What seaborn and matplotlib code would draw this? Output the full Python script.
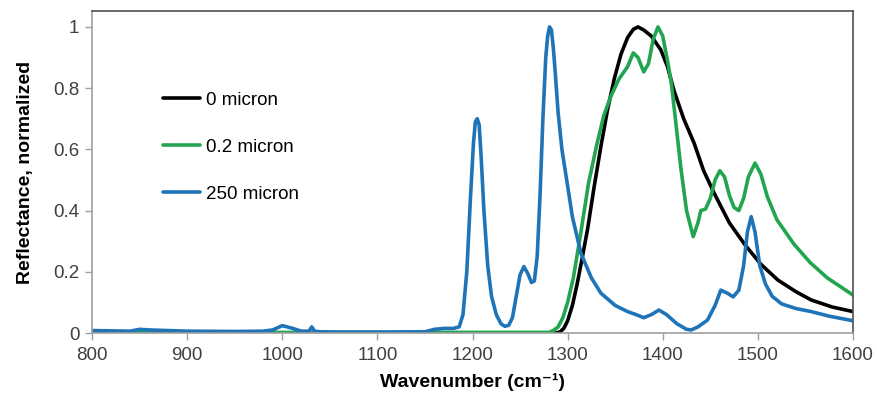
import matplotlib
matplotlib.use("Agg")
import matplotlib.pyplot as plt
import seaborn as sns
import pandas as pd

# ---- data ----
w_black = [800, 1288, 1292, 1296, 1300, 1305, 1310, 1315, 1321, 1328, 1335, 1342, 1349, 1356,
           1363, 1369, 1374, 1380, 1388, 1398, 1405, 1412, 1422, 1433, 1443, 1454, 1470, 1486,
           1503, 1521, 1540, 1556, 1578, 1600]
r_black = [0, 0, 0.004, 0.015, 0.04, 0.09, 0.16, 0.24, 0.34, 0.48, 0.61, 0.73, 0.83, 0.91,
           0.965, 0.992, 1.0, 0.99, 0.97, 0.925, 0.87, 0.79, 0.70, 0.62, 0.53, 0.457, 0.36, 0.29,
           0.225, 0.173, 0.135, 0.108, 0.085, 0.07]

w_green = [800, 1280, 1285, 1290, 1295, 1300, 1306, 1314, 1322, 1331, 1338, 1345, 1354, 1363,
           1369, 1374, 1380, 1385, 1390, 1395, 1400, 1405, 1409, 1414, 1419, 1425, 1432, 1437,
           1440, 1445, 1450, 1455, 1460, 1465, 1470, 1475, 1480, 1485, 1490, 1497, 1503, 1510,
           1520, 1538, 1555, 1573, 1600]
r_green = [0.002, 0.002, 0.008, 0.02, 0.05, 0.1, 0.18, 0.33, 0.49, 0.62, 0.71, 0.77, 0.83,
           0.87, 0.915, 0.90, 0.853, 0.88, 0.96, 1.0, 0.97, 0.89, 0.817, 0.68, 0.54, 0.40,
           0.315, 0.36, 0.40, 0.405, 0.44, 0.50, 0.53, 0.51, 0.45, 0.41, 0.40, 0.44, 0.51,
           0.555, 0.52, 0.445, 0.37, 0.29, 0.23, 0.18, 0.124]

w_blue = [800, 820, 840, 850, 860, 880, 900, 950, 980, 990, 1000, 1010, 1020, 1028, 1031, 1034,
          1040, 1060, 1100, 1150, 1160, 1170, 1180, 1186, 1190, 1194, 1198, 1201, 1203, 1205,
          1207, 1209, 1212, 1216, 1220, 1225, 1230, 1234, 1238, 1242, 1246, 1250, 1254, 1258,
          1262, 1265, 1268, 1271, 1274, 1277, 1279, 1281, 1283, 1285, 1287, 1290, 1294, 1298,
          1305, 1314, 1325, 1335, 1350, 1363, 1372, 1380, 1388, 1396, 1404, 1415, 1425, 1430,
          1437, 1447, 1455, 1461, 1468, 1474, 1480, 1485, 1489, 1493, 1497, 1502, 1508, 1515,
          1525, 1540, 1556, 1575, 1600]
r_blue = [0.008, 0.007, 0.006, 0.012, 0.01, 0.008, 0.006, 0.005, 0.006, 0.01, 0.024, 0.016,
          0.006, 0.006, 0.02, 0.006, 0.004, 0.003, 0.003, 0.004, 0.012, 0.015, 0.015, 0.02,
          0.06, 0.2, 0.45, 0.62, 0.69, 0.70, 0.68, 0.58, 0.40, 0.22, 0.12, 0.06, 0.03, 0.022,
          0.025, 0.05, 0.12, 0.19, 0.217, 0.195, 0.165, 0.17, 0.25, 0.45, 0.70, 0.90, 0.97,
          1.0, 0.99, 0.93, 0.85, 0.72, 0.60, 0.52, 0.38, 0.26, 0.18, 0.13, 0.09, 0.07, 0.06,
          0.05, 0.06, 0.075, 0.06, 0.03, 0.012, 0.01, 0.02, 0.042, 0.09, 0.14, 0.13, 0.118,
          0.14, 0.22, 0.33, 0.38, 0.33, 0.22, 0.16, 0.12, 0.095, 0.08, 0.07, 0.055, 0.04]

labels = ["0 micron", "0.2 micron", "250 micron"]
colors = ["#000000", "#22a54f", "#1f74b8"]

x_ticks = [800, 900, 1000, 1100, 1200, 1300, 1400, 1500, 1600]
y_ticks = [0, 0.2, 0.4, 0.6, 0.8, 1.0]
y_ticklabels = ["0", "0.2", "0.4", "0.6", "0.8", "1"]

frames = []
for w, r, lab in zip([w_black, w_green, w_blue], [r_black, r_green, r_blue], labels):
    frames.append(pd.DataFrame({"Wavenumber": w, "Reflectance": r, "Sample": lab}))
df = pd.concat(frames, ignore_index=True)

sns.set_theme(style="white")
plt.rcParams["font.family"] = ["Liberation Sans", "DejaVu Sans"]

fig = plt.figure(figsize=(8.78, 3.96), dpi=100)
ax = fig.add_axes([92 / 878, 63 / 396, (853 - 92) / 878, (333 - 11) / 396])

sns.lineplot(data=df, x="Wavenumber", y="Reflectance", hue="Sample",
             hue_order=labels, palette=dict(zip(labels, colors)),
             sort=False, estimator=None, linewidth=2.6, ax=ax)

ax.set_xlim(800, 1600)
ax.set_ylim(0, 1.052)
ax.set_xticks(x_ticks)
ax.set_xticklabels([str(t) for t in x_ticks])
ax.set_yticks(y_ticks)
ax.set_yticklabels(y_ticklabels)
ax.tick_params(axis="both", which="major", labelsize=13.5, labelcolor="#404040",
               colors="#a0a0a0", length=5, width=1, direction="out")
ax.tick_params(axis="x", labelcolor="#404040", pad=5)
ax.tick_params(axis="y", labelcolor="#404040", pad=4)
ax.xaxis.set_ticks_position("bottom")
ax.yaxis.set_ticks_position("left")

for side in ["left", "bottom"]:
    ax.spines[side].set_color("#a0a0a0")
    ax.spines[side].set_linewidth(1.2)
for side in ["top", "right"]:
    ax.spines[side].set_color("#505050")
    ax.spines[side].set_linewidth(1.2)

ax.set_xlabel("Wavenumber (cm\u207b\u00b9)", fontsize=14, fontweight="bold", color="#000000", labelpad=7)
ax.set_ylabel("Reflectance, normalized", fontsize=14, fontweight="bold", color="#000000", labelpad=14)

leg = ax.legend(loc="upper left", bbox_to_anchor=(0.084, 0.772), frameon=False,
                fontsize=13.5, handlelength=1.95, handletextpad=0.3, labelspacing=1.58,
                borderaxespad=0)
for t in leg.get_texts():
    t.set_color("#000000")

fig.savefig("out.png", dpi=100)
